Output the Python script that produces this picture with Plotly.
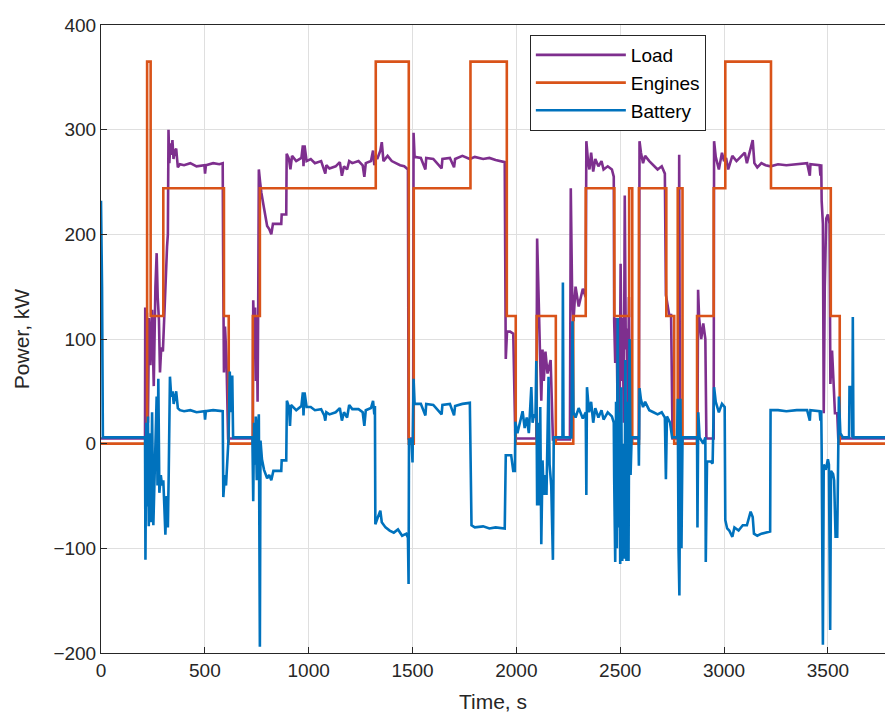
import plotly.graph_objects as go

# ---------------- data ----------------
engines_t = [0, 222, 239, 300, 592, 615, 731, 765, 1323, 1482, 1506, 1779, 1954, 1997,
             2098, 2190, 2274, 2334, 2472, 2543, 2558, 2590, 2722, 2760, 2777, 2800,
             2870, 2950, 3006, 3226, 3514, 3557, 3775]
engines_kw = [0, 365, 122, 244, 122, 0, 122, 244, 365, 0, 244, 365, 122, 0,
              122, 0, 122, 244, 122, 244, 0, 244, 122, 0, 244, 0,
              122, 244, 365, 244, 122, 0, 0]

load_t = [0, 212, 213, 217, 221, 226, 231, 238, 246, 254, 262, 268, 273, 279, 284, 290, 298,
          305, 312, 318, 322, 325, 329, 334, 339, 344, 349, 355, 362, 370, 380, 400, 430,
          460, 498, 501, 505, 540, 570, 586, 589, 592, 597, 604, 612, 731, 733, 738, 742,
          746, 750, 754, 757, 760, 766, 772, 785, 800, 810, 820, 828, 868, 870, 892, 894,
          905, 912, 920, 940, 965, 972, 975, 980, 990, 1010, 1030, 1060, 1075, 1080, 1085,
          1100, 1130, 1150, 1160, 1170, 1185, 1195, 1210, 1240, 1260, 1268, 1275, 1300,
          1310, 1316, 1322, 1330, 1345, 1352, 1360, 1380, 1400, 1420, 1440, 1460, 1478,
          1481, 1503, 1505, 1510, 1540, 1562, 1566, 1600, 1640, 1644, 1680, 1700, 1705,
          1740, 1776, 1800, 1840, 1870, 1900, 1944, 1949, 1955, 1970, 1985, 1995, 2096,
          2100, 2104, 2108, 2114, 2120, 2126, 2132, 2140, 2150, 2165, 2176, 2258, 2262,
          2268, 2275, 2285, 2300, 2320, 2334, 2337, 2345, 2352, 2360, 2370, 2380, 2395,
          2410, 2420, 2440, 2460, 2469, 2471, 2476, 2482, 2487, 2492, 2497, 2502, 2507,
          2512, 2517, 2522, 2527, 2532, 2537, 2542, 2548, 2553, 2590, 2593, 2600, 2610,
          2620, 2640, 2660, 2680, 2700, 2715, 2720, 2728, 2736, 2745, 2752, 2782, 2784,
          2788, 2872, 2875, 2880, 2890, 2900, 2910, 2915, 2950, 2952, 2960, 2975, 2990,
          3000, 3010, 3020, 3040, 3060, 3080, 3100, 3110, 3125, 3138, 3146, 3160, 3180,
          3200, 3224, 3260, 3300, 3350, 3400, 3413, 3416, 3460, 3464, 3468, 3470, 3476,
          3480, 3485, 3492, 3500, 3508, 3512, 3520, 3527, 3534, 3545, 3550, 3775]
load_kw = [5, 5, 130, 40, 125, 20, 120, 75, 128, 55, 150, 182, 140, 118, 68, 92, 88,
           128, 165, 188, 200, 300, 268, 287, 276, 290, 272, 279, 282, 264, 267, 266, 268,
           265, 266, 258, 266, 268, 267, 268, 150, 68, 112, 82, 5, 5, 137, 100, 130,
           60, 122, 40, 135, 262, 250, 240, 225, 208, 205, 200, 210, 210, 219, 219, 277,
           272, 262, 275, 270, 273, 285, 265, 285, 270, 272, 268, 270, 262, 258, 266,
           263, 265, 269, 256, 265, 262, 270, 268, 270, 266, 255, 268, 270,
           280, 266, 275, 272, 280, 288, 270, 275, 270, 268, 266, 265, 262,
           5, 5, 297, 274, 273, 262, 273, 272, 263, 272, 273, 264, 272,
           275, 272, 274, 272, 273, 271, 269, 81, 107, 107, 105, 5, 5,
           196, 174, 134, 84, 41, 90, 60, 88, 67, 80, 4, 4, 244,
           150, 117, 150, 131, 148, 140, 289, 270, 262, 278, 260, 272, 265,
           270, 262, 265, 262, 255, 117, 77, 120, 40, 100, 10, 172, 60,
           120, 20, 237, 90, 110, 30, 140, 6, 5, 5, 289, 278, 268,
           275, 270, 266, 262, 265, 258, 142, 130, 123, 123, 5, 5, 276,
           5, 5, 147, 120, 100, 115, 100, 5, 5, 289, 274, 262, 278,
           270, 273, 262, 275, 270, 274, 278, 268, 280, 290, 268, 264, 268,
           266, 265, 267, 266, 267, 268, 256, 267, 266, 256, 267, 232, 210,
           29, 150, 215, 219, 210, 57, 89, 60, 29, 29, 5, 5]

battery_t = [0, 5, 9, 212, 214, 218, 222, 226, 230, 234, 240, 246, 252, 258, 263, 268, 272,
             276, 281, 288, 294, 300, 305, 310, 316, 322, 326, 332, 338, 345, 350, 356, 362,
             370, 380, 400, 430, 460, 498, 501, 505, 540, 570, 586, 589, 596, 602, 608, 614,
             620, 626, 632, 636, 729, 733, 737, 741, 745, 750, 755, 760, 765, 768, 775, 785,
             800, 810, 820, 830, 868, 870, 892, 895, 905, 910, 915, 940, 965, 972, 975, 980,
             990, 1010, 1030, 1060, 1075, 1080, 1085, 1100, 1130, 1150, 1160, 1170, 1185,
             1195, 1210, 1240, 1260, 1268, 1275, 1300, 1310, 1316, 1319, 1321, 1330, 1345,
             1352, 1370, 1390, 1410, 1430, 1450, 1470, 1478, 1481, 1483, 1495, 1500, 1505,
             1510, 1540, 1562, 1566, 1600, 1640, 1644, 1680, 1700, 1705, 1740, 1776, 1784,
             1800, 1840, 1870, 1900, 1944, 1949, 1975, 1985, 1993, 1995, 2005, 2015, 2030,
             2040, 2050, 2060, 2072, 2078, 2085, 2092, 2096, 2100, 2105, 2110, 2115, 2120,
             2126, 2132, 2138, 2145, 2155, 2160, 2168, 2176, 2180, 2222, 2224, 2227, 2265,
             2270, 2275, 2285, 2300, 2320, 2334, 2337, 2340, 2350, 2360, 2370, 2380, 2395,
             2410, 2420, 2440, 2460, 2469, 2471, 2476, 2480, 2484, 2488, 2492, 2496, 2500,
             2505, 2510, 2515, 2520, 2525, 2530, 2535, 2540, 2545, 2550, 2555, 2588, 2590,
             2593, 2600, 2610, 2620, 2640, 2660, 2680, 2700, 2715, 2720, 2725, 2740, 2750,
             2774, 2777, 2781, 2785, 2790, 2795, 2800, 2870, 2872, 2876, 2882, 2900, 2910,
             2912, 2918, 2935, 2945, 2952, 2960, 2975, 2990, 3003, 3006, 3015, 3025, 3040,
             3050, 3070, 3090, 3110, 3128, 3138, 3144, 3160, 3180, 3200, 3222, 3224, 3260,
             3300, 3350, 3400, 3413, 3416, 3460, 3464, 3468, 3470, 3476, 3480, 3490, 3500,
             3505, 3511, 3515, 3525, 3530, 3537, 3545, 3553, 3560, 3572, 3602, 3604, 3615,
             3618, 3620, 3623, 3775]
battery_kw = [232, 150, 6, 6, -111, 20, -60, 26, -79, 10, -75, 30, -78, -20, 5, 45, -40,
              62, -47, -30, -40, -35, -60, -87, -50, -80, -30, 64, 45, 50, 38, 46, 50,
              34, 32, 31, 32, 30, 31, 23, 31, 32, 31, 31, -51, -30, -40, -20, 5,
              69, 30, 65, 6, 6, -55, 20, -20, 26, -35, 15, 28, -194, 3, -15, -25,
              -33, -30, -35, -26, -26, -16, -16, 41, 35, 17, 37, 32, 36, 49, 27, 49,
              35, 35, 32, 33, 27, 22, 30, 28, 30, 34, 22, 30, 25,
              37, 33, 33, 30, 17, 32, 34, 41, 28, 36, -77, -72, -64,
              -75, -80, -83, -85, -82, -88, -86, -90, -134, 4, 4, -18, 62,
              38, 38, 27, 38, 37, 28, 37, 38, 27, 36, 38, 39, -78,
              -80, -79, -81, -80, -81, -11, -11, -26, -26, 21, 10, 18, 31,
              15, 25, 10, 54, 20, 28, 25, 79, -59, 20, -59, 35, -96,
              -16, -49, -30, -49, 64, -20, -40, -111, 6, 6, 154, 6, 6,
              117, 30, 25, 34, 24, 30, -49, 54, 30, 40, 20, 34, 25,
              32, 23, 30, 26, 20, -33, -113, 40, -100, 120, -80, 30, -115,
              54, -112, 0, -110, 80, -112, 40, -112, 100, -30, 6, 6, -21,
              53, 42, 35, 40, 32, 30, 28, 30, 25, -34, 26, 20, 6,
              6, 43, -101, -145, 43, -100, 6, 6, -80, 30, 6, 0, 6,
              -113, -17, -17, -19, 54, 40, 30, 38, 35, -73, -81, -83, -89,
              -80, -83, -78, -78, -65, -70, -86, -88, -86, -85, -84, 32, 32,
              31, 32, 32, 22, 32, 31, 22, 32, -5, -192, -20, -25, -15,
              -20, -178, -26, -29, -35, -89, -89, 45, 10, 6, 6, 54, 54,
              6, 121, 6, 6]

x_ticks = [0, 500, 1000, 1500, 2000, 2500, 3000, 3500]
y_ticks = [-200, -100, 0, 100, 200, 300, 400]

C_LOAD = "#7E2F8E"
C_ENG = "#D95319"
C_BAT = "#0072BD"
AX = "#262626"
FONT = "Liberation Sans, Arial, sans-serif"
LW = 2.6

fig = go.Figure()
fig.add_trace(go.Scatter(x=load_t, y=load_kw, mode="lines", name="Load",
                         line=dict(color=C_LOAD, width=LW)))
fig.add_trace(go.Scatter(x=engines_t, y=engines_kw, mode="lines", name="Engines",
                         line=dict(color=C_ENG, width=LW, shape="hv")))
fig.add_trace(go.Scatter(x=battery_t, y=battery_kw, mode="lines", name="Battery",
                         line=dict(color=C_BAT, width=LW)))

axis_common = dict(showline=True, linecolor=AX, linewidth=1, mirror=True,
                   ticks="inside", ticklen=6, tickcolor=AX,
                   showgrid=True, gridcolor="#dfdfdf", gridwidth=1,
                   zeroline=False, tickfont=dict(family=FONT, size=19, color=AX))

fig.update_xaxes(range=[0, 3775], tickvals=x_ticks,
                 title=dict(text="Time, s", font=dict(family=FONT, size=21, color=AX), standoff=14),
                 **axis_common)
fig.update_yaxes(range=[-200, 400], tickvals=y_ticks,
                 title=dict(text="Power, kW", font=dict(family=FONT, size=21, color=AX), standoff=18),
                 **axis_common)

fig.update_layout(
    width=885, height=717,
    margin=dict(l=101, r=0, t=25, b=64),
    paper_bgcolor="white", plot_bgcolor="white",
    font=dict(family=FONT, size=18, color=AX),
    showlegend=True,
    legend=dict(x=0.547, y=0.984, xanchor="left", yanchor="top",
                bgcolor="white", bordercolor=AX, borderwidth=1,
                font=dict(family=FONT, size=19, color="#000000"),
                itemwidth=90, tracegroupgap=0),
)

fig.write_html("out.html", config={"displayModeBar": False},
               post_script="document.body.style.margin='0';document.body.style.padding='0';")
